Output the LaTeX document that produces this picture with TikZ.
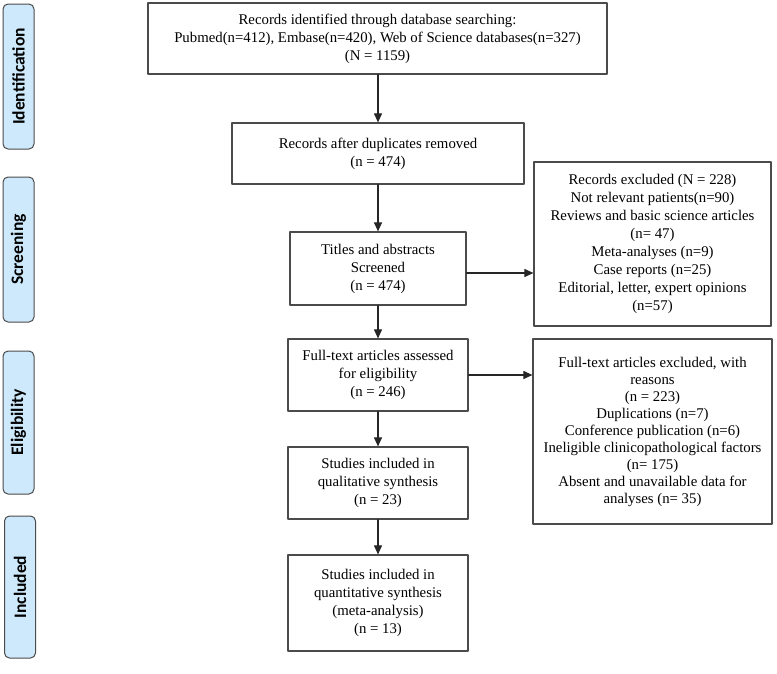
\documentclass[tikz,border=0pt]{standalone}
\usepackage{fontspec}
\setmainfont{Liberation Serif}
\newfontfamily\phasefont{Carlito}
\usetikzlibrary{arrows.meta}
\definecolor{phasefill}{RGB}{205,233,251}
\definecolor{boxline}{RGB}{75,75,75}

\begin{document}
\begin{tikzpicture}[line cap=round,line join=round,>={Triangle[length=9pt,width=8pt]},x=1pt,y=-1pt,
    box/.style={draw=boxline,line width=1.2pt,align=center,inner sep=2pt,font=\fontsize{14.8}{18}\selectfont},
    phase/.style={draw=boxline,fill=phasefill,rounded corners=5pt,line width=1pt,rotate=90,inner sep=0pt,font=\phasefont\bfseries\fontsize{17.5}{18}\selectfont},
    flow/.style={->,draw=black!85,line width=1.1pt}]
    \useasboundingbox (0,0) rectangle (777,673);
    \node [phase,minimum width=145pt,minimum height=31pt] (pident) at (18.5,76.5) {Identification};
    \node [phase,minimum width=145pt,minimum height=31pt] (pscreen) at (18.5,249.5) {Screening};
    \node [phase,minimum width=143pt,minimum height=31pt] (pelig) at (18.5,422.5) {Eligibility};
    \node [phase,minimum width=142pt,minimum height=31pt] (pincl) at (20,587) {Included};
    \node [box,minimum width=459pt,minimum height=71pt] (ident) at (377.5,38.5) {Records identified through database searching:\\Pubmed(n=412), Embase(n=420), Web of Science databases(n=327)\\(N = 1159)};
    \node [box,minimum width=292pt,minimum height=61pt] (dup) at (378,153.5) {Records after duplicates removed\\(n = 474)};
    \node [box,minimum width=176pt,minimum height=73pt] (screen) at (378,268.5) {Titles and abstracts\\Screened\\(n = 474)};
    \node [box,minimum width=180pt,minimum height=72pt] (full) at (378,375) {Full-text articles assessed\\for eligibility\\(n = 246)};
    \node [box,minimum width=180pt,minimum height=72pt] (qual) at (378,483) {Studies included in\\qualitative synthesis\\(n = 23)};
    \node [box,minimum width=180pt,minimum height=96pt] (quant) at (378,603) {Studies included in\\quantitative synthesis\\(meta-analysis)\\(n = 13)};
    \node [box,minimum width=237pt,minimum height=164pt] (excl) at (652.5,244) {Records excluded (N = 228)\\Not relevant patients(n=90)\\Reviews and basic science articles\\(n= 47)\\Meta-analyses (n=9)\\Case reports (n=25)\\Editorial, letter, expert opinions\\(n=57)};
    \node [box,minimum width=239pt,minimum height=185pt,font=\fontsize{14.8}{17}\selectfont] (fexcl) at (652.5,431.5) {Full-text articles excluded, with\\reasons\\(n = 223)\\Duplications (n=7)\\Conference publication (n=6)\\Ineligible clinicopathological factors\\(n= 175)\\Absent and unavailable data for\\analyses (n= 35)};
    \draw [flow] (dup.north |- ident.south) -- (dup.north);
    \draw [flow] (dup.south) -- (screen.north);
    \draw [flow] (screen.south) -- (full.north);
    \draw [flow] (full.south) -- (qual.north);
    \draw [flow] (qual.south) -- (quant.north);
    \draw [flow] ([yshift=-4.5pt]screen.east) -- ([yshift=-4.5pt]screen.east -| excl.west);
    \draw [flow] (full.east) -- (full.east -| fexcl.west);
\end{tikzpicture}
\end{document}
